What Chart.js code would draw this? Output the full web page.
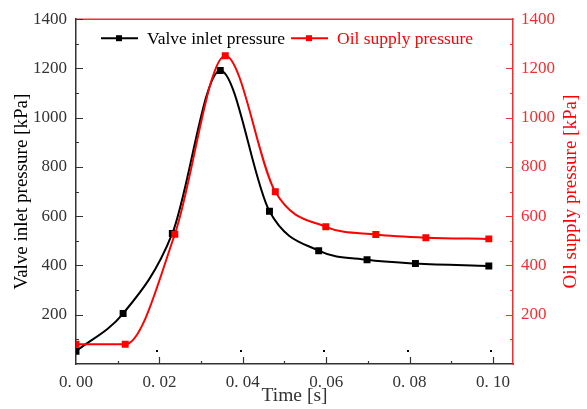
<!DOCTYPE html>
<html>
<head>
<meta charset="utf-8">
<script src="https://cdn.jsdelivr.net/npm/chart.js@4.4.1/dist/chart.umd.min.js"></script>
<style>
  html, body { margin: 0; padding: 0; background: #fff; }
  #wrap { width: 587px; height: 409px; }
</style>
</head>
<body>
<div id="wrap"><canvas id="grafica" width="587" height="409"></canvas></div>
<script>
// datos
var tiempo_valvula = [0, 0.0113, 0.0231, 0.0346, 0.0464, 0.0582, 0.0698, 0.0814, 0.099];
var presion_valvula = [52, 205, 530, 1192, 620, 460, 423, 408, 398];

var tiempo_aceite = [0, 0.0118, 0.0237, 0.0358, 0.0478, 0.0599, 0.0719, 0.0839, 0.099];
var presion_aceite = [80, 80, 527, 1252, 699, 557, 526, 513, 508];

var ticks_x = [0, 0.02, 0.04, 0.06, 0.08, 0.10];
var etiquetas_x = ["0. 00", "0. 02", "0. 04", "0. 06", "0. 08", "0. 10"];
var ticks_y = [200, 400, 600, 800, 1000, 1200, 1400];
var menores_x = [0.01, 0.03, 0.05, 0.07, 0.09];
var menores_y = [100, 300, 500, 700, 900, 1100, 1300];

var nombre_valvula = "Valve inlet pressure";
var nombre_aceite = "Oil supply pressure";
var titulo_x = "Time [s]";
var titulo_y = "Valve inlet pressure [kPa]";
var titulo_y2 = "Oil supply pressure [kPa]";

var fuente = "'Liberation Serif', 'Times New Roman', serif";
var gris = "#333333";
var rojo = "#ff0000";
var rojo_eje = "#f03030";

function puntos(xs, ys) {
    var res = [];
    for (var i = 0; i < xs.length; i++) {
        res.push({x: xs[i], y: ys[i]});
    }
    return res;
}

//ticks hacia adentro, marco rojo arriba, leyenda y titulo derecho
var extras = {
    id: 'extras',
    afterDraw: function(chart) {
        var ctx = chart.ctx;
        var area = chart.chartArea;
        var sx = chart.scales.x, sy = chart.scales.y, sy2 = chart.scales.y2;
        var i, p;
        ctx.save();

        // marco superior
        ctx.strokeStyle = rojo_eje;
        ctx.lineWidth = 1.5;
        ctx.beginPath();
        ctx.moveTo(area.left, area.top);
        ctx.lineTo(area.right + 0.5, area.top);
        ctx.stroke();

        // ticks eje x
        ctx.strokeStyle = gris;
        ctx.lineWidth = 1.2;
        ctx.beginPath();
        for (i = 1; i < ticks_x.length; i++) {
            p = Math.round(sx.getPixelForValue(ticks_x[i])) + 0.5;
            ctx.moveTo(p, area.bottom);
            ctx.lineTo(p, area.bottom - 7);
        }
        for (i = 0; i < menores_x.length; i++) {
            p = Math.round(sx.getPixelForValue(menores_x[i])) + 0.5;
            ctx.moveTo(p, area.bottom);
            ctx.lineTo(p, area.bottom - 3);
        }
        // ticks eje y izquierdo
        for (i = 0; i < ticks_y.length; i++) {
            p = Math.round(sy.getPixelForValue(ticks_y[i])) + 0.5;
            ctx.moveTo(area.left, p);
            ctx.lineTo(area.left + 7, p);
        }
        for (i = 0; i < menores_y.length; i++) {
            p = Math.round(sy.getPixelForValue(menores_y[i])) + 0.5;
            ctx.moveTo(area.left, p);
            ctx.lineTo(area.left + 3, p);
        }
        ctx.stroke();

        // puntitos sobre el eje x
        ctx.fillStyle = "#000";
        for (i = 1; i < ticks_x.length; i++) {
            p = Math.round(sx.getPixelForValue(ticks_x[i]));
            ctx.fillRect(p - 3, area.bottom - 14, 2, 2);
        }

        // ticks eje y derecho
        ctx.strokeStyle = rojo_eje;
        ctx.beginPath();
        for (i = 0; i < ticks_y.length; i++) {
            p = Math.round(sy2.getPixelForValue(ticks_y[i])) + 0.5;
            ctx.moveTo(area.right, p);
            ctx.lineTo(area.right - 7, p);
        }
        for (i = 0; i < menores_y.length; i++) {
            p = Math.round(sy2.getPixelForValue(menores_y[i])) + 0.5;
            ctx.moveTo(area.right, p);
            ctx.lineTo(area.right - 3, p);
        }
        ctx.stroke();

        // titulo eje derecho (se lee de abajo hacia arriba)
        ctx.fillStyle = rojo;
        ctx.font = "19px " + fuente;
        ctx.textAlign = "center";
        ctx.textBaseline = "middle";
        ctx.translate(571, (area.top + area.bottom) / 2);
        ctx.rotate(-Math.PI / 2);
        ctx.fillText(titulo_y2, 0, 0);
        ctx.setTransform(1, 0, 0, 1, 0, 0);

        // leyenda dentro del area
        var lx = area.left + 25;
        var ly = area.top + 19;
        ctx.font = "17.5px " + fuente;
        ctx.textAlign = "left";
        var sets = [chart.data.datasets[0], chart.data.datasets[1]];
        for (i = 0; i < sets.length; i++) {
            var ds = sets[i];
            ctx.strokeStyle = ds.borderColor;
            ctx.lineWidth = 2;
            ctx.beginPath();
            ctx.moveTo(lx, ly);
            ctx.lineTo(lx + 37, ly);
            ctx.stroke();
            ctx.fillStyle = ds.borderColor;
            ctx.fillRect(lx + 18 - 3, ly - 3, 6, 6);
            ctx.fillText(ds.label, lx + 46, ly + 1);
            lx = lx + 46 + ctx.measureText(ds.label).width + 6;
        }
        ctx.restore();
    }
};

function etiqueta_y(value) {
    return String(value);
}

var ctx1 = document.getElementById('grafica');

var grafica1 = new Chart(ctx1, {
    type: 'line',
    data: {
        datasets: [{
            label: nombre_valvula,
            data: puntos(tiempo_valvula, presion_valvula),
            borderColor: "#000000",
            backgroundColor: "#000000",
            borderWidth: 2,
            pointStyle: 'rect',
            pointRadius: 3.5,
            cubicInterpolationMode: 'monotone',
            yAxisID: 'y',
            order: 1
        }, {
            label: nombre_aceite,
            data: puntos(tiempo_aceite, presion_aceite),
            borderColor: rojo,
            backgroundColor: rojo,
            borderWidth: 2,
            pointStyle: 'rect',
            pointRadius: 3.5,
            cubicInterpolationMode: 'monotone',
            yAxisID: 'y2',
            order: 0
        }]
    },
    options: {
        responsive: false,
        animation: false,
        events: [],
        layout: { padding: { top: 14, left: 0, right: 0, bottom: 0 } },
        plugins: {
            legend: { display: false },
            tooltip: { enabled: false }
        },
        scales: {
            x: {
                type: 'linear',
                position: 'bottom',
                min: 0,
                max: 0.1048,
                afterBuildTicks: function(scale) {
                    scale.ticks = ticks_x.map(function(v) { return {value: v}; });
                },
                afterFit: function(scale) { scale.height = 45; },
                grid: { display: false, drawTicks: false },
                border: { display: true, color: gris, width: 1.5 },
                ticks: {
                    padding: 8,
                    maxRotation: 0,
                    color: gris,
                    font: { family: fuente, size: 17 },
                    callback: function(value) {
                        var idx = ticks_x.indexOf(value);
                        return idx >= 0 ? etiquetas_x[idx] : '';
                    }
                },
                title: {
                    display: true,
                    text: titulo_x,
                    color: gris,
                    font: { family: fuente, size: 19.5 },
                    padding: { top: 0, bottom: 1 }
                }
            },
            y: {
                type: 'linear',
                position: 'left',
                min: 0,
                max: 1400,
                afterBuildTicks: function(scale) {
                    scale.ticks = ticks_y.map(function(v) { return {value: v}; });
                },
                afterFit: function(scale) { scale.width = 76; },
                grid: { display: false, drawTicks: false },
                border: { display: true, color: gris, width: 1.5 },
                ticks: {
                    padding: 9,
                    color: gris,
                    font: { family: fuente, size: 17 },
                    callback: etiqueta_y
                },
                title: {
                    display: true,
                    text: titulo_y,
                    color: "#000",
                    font: { family: fuente, size: 19 },
                    padding: { top: 11, bottom: 0 }
                }
            },
            y2: {
                type: 'linear',
                position: 'right',
                min: 0,
                max: 1400,
                afterBuildTicks: function(scale) {
                    scale.ticks = ticks_y.map(function(v) { return {value: v}; });
                },
                afterFit: function(scale) { scale.width = 74; },
                grid: { display: false, drawTicks: false },
                border: { display: true, color: rojo_eje, width: 1.5 },
                ticks: {
                    padding: 8,
                    color: rojo_eje,
                    font: { family: fuente, size: 17 },
                    callback: etiqueta_y
                }
            }
        }
    },
    plugins: [extras]
});
</script>
</body>
</html>
